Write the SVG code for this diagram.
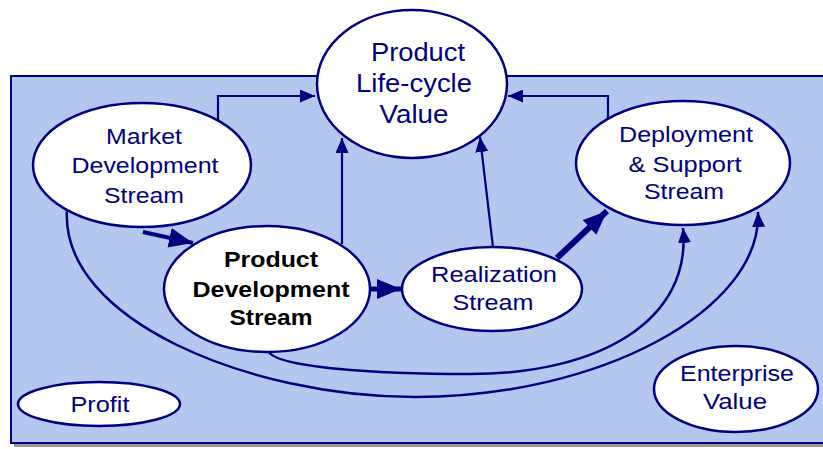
<svg xmlns="http://www.w3.org/2000/svg" width="823" height="449" viewBox="0 0 823 449">
<style>
.bg{fill:#B3C7EF;stroke:#000080;stroke-width:2}
.node ellipse{fill:#fff;stroke:#000080;stroke-width:2.5}
.t{font-family:"Liberation Sans",Arial,sans-serif;fill:#000080;text-anchor:middle;font-size:22px}
.big{font-size:25px}
.b{font-weight:bold;fill:#000;font-size:22px}
.c{fill:none;stroke:#000080;stroke-width:2.2}
.k{fill:none;stroke:#000080;stroke-width:5}
</style>
<defs>
<marker id="a" markerUnits="userSpaceOnUse" viewBox="0 0 15 13" refX="15" refY="6.5" markerWidth="15" markerHeight="13" orient="auto"><path d="M0,0L15,6.5L0,13z" fill="#000080"/></marker>
<marker id="A" markerUnits="userSpaceOnUse" viewBox="0 0 24 20" refX="24" refY="10" markerWidth="24" markerHeight="20" orient="auto"><path d="M0,0L24,10L0,20z" fill="#000080"/></marker>
</defs>
<rect x="14" y="80" width="820" height="367" fill="#999"/>
<rect class="bg" x="11" y="76" width="820" height="367"/>
<g id="connectors">
<path class="c" d="M218,121V96H315" marker-end="url(#a)"/>
<path class="c" d="M608,119V96H508" marker-end="url(#a)"/>
<path class="c" d="M342,244V138" marker-end="url(#a)"/>
<path class="c" d="M493,247L480,137" marker-end="url(#a)"/>
<path class="k" style="stroke-width:4" d="M143,232L193,243" marker-end="url(#A)"/>
<path class="k" d="M371,289H401" marker-end="url(#A)"/>
<path class="k" style="stroke-width:6" d="M557,258L607,211" marker-end="url(#A)"/>
<path class="c" style="stroke-width:2.5" d="M268,350C272,368 380,374 470,374C600,374 692,320 683,228" marker-end="url(#a)"/>
<path class="c" style="stroke-width:2.5" d="M67,210C60,320 250,397 415,397C600,397 762,310 758,212" marker-end="url(#a)"/>
</g>
<g id="plv" class="node"><ellipse cx="412" cy="84" rx="95" ry="74"/>
<text class="t big" x="418" y="61" textLength="94" lengthAdjust="spacingAndGlyphs">Product</text>
<text class="t big" x="414" y="92" textLength="116" lengthAdjust="spacingAndGlyphs">Life-cycle</text>
<text class="t big" x="414" y="123" textLength="69" lengthAdjust="spacingAndGlyphs">Value</text></g>
<g id="market" class="node"><ellipse cx="142" cy="165" rx="109" ry="62"/>
<text class="t" x="144" y="144" textLength="76" lengthAdjust="spacingAndGlyphs">Market</text>
<text class="t" x="145" y="173" textLength="147" lengthAdjust="spacingAndGlyphs">Development</text>
<text class="t" x="144" y="203" textLength="80" lengthAdjust="spacingAndGlyphs">Stream</text></g>
<g id="deploy" class="node"><ellipse cx="683" cy="163" rx="107" ry="62"/>
<text class="t" x="686" y="142" textLength="134" lengthAdjust="spacingAndGlyphs">Deployment</text>
<text class="t" x="685" y="172" textLength="113" lengthAdjust="spacingAndGlyphs">&amp; Support</text>
<text class="t" x="684" y="199" textLength="80" lengthAdjust="spacingAndGlyphs">Stream</text></g>
<g id="pd" class="node"><ellipse cx="267" cy="289" rx="103" ry="63"/>
<text class="t b" x="271" y="267" textLength="94" lengthAdjust="spacingAndGlyphs">Product</text>
<text class="t b" x="271" y="297" textLength="157" lengthAdjust="spacingAndGlyphs">Development</text>
<text class="t b" x="271" y="325" textLength="83" lengthAdjust="spacingAndGlyphs">Stream</text></g>
<g id="real" class="node"><ellipse cx="492" cy="289" rx="90" ry="42"/>
<text class="t" x="494" y="282" textLength="126" lengthAdjust="spacingAndGlyphs">Realization</text>
<text class="t" x="493" y="310" textLength="81" lengthAdjust="spacingAndGlyphs">Stream</text></g>
<g id="profit" class="node"><ellipse cx="99" cy="404" rx="81" ry="22"/>
<text class="t" x="100" y="412" textLength="59" lengthAdjust="spacingAndGlyphs">Profit</text></g>
<g id="ev" class="node"><ellipse cx="736" cy="389" rx="82" ry="43"/>
<text class="t" x="737" y="381" textLength="114" lengthAdjust="spacingAndGlyphs">Enterprise</text>
<text class="t" x="735" y="409" textLength="64" lengthAdjust="spacingAndGlyphs">Value</text></g>
</svg>
